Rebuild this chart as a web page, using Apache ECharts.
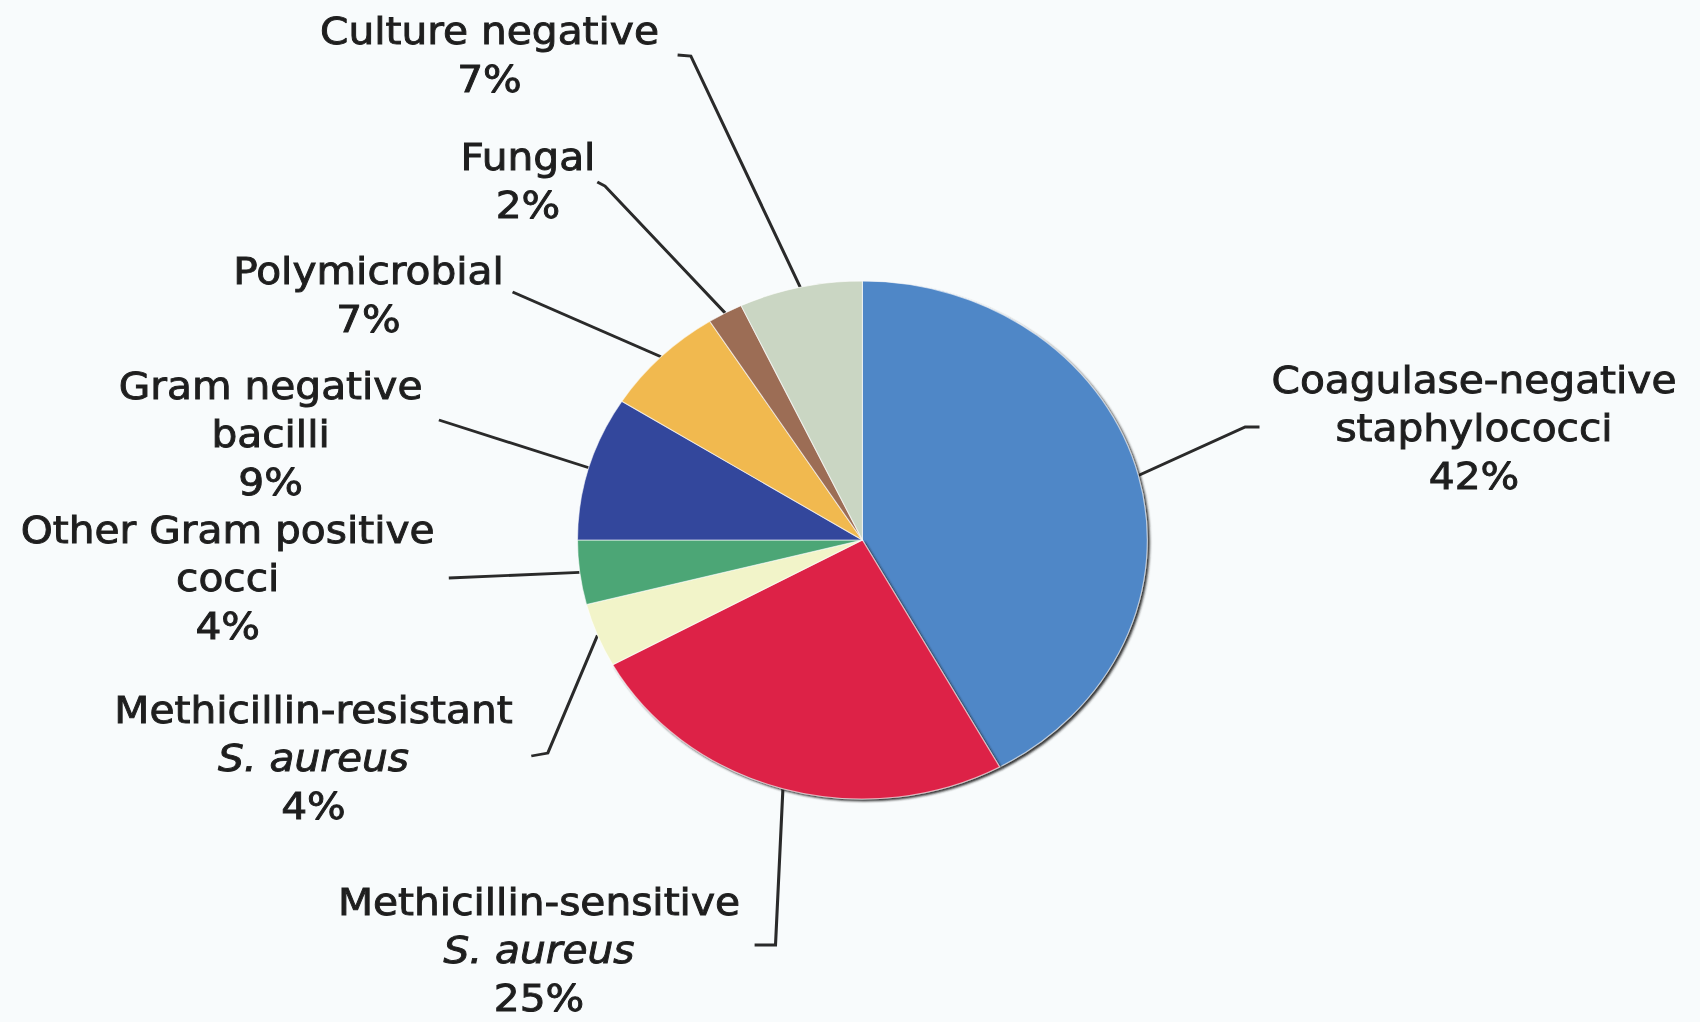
<!DOCTYPE html>
<html>
<head>
<meta charset="utf-8">
<script src="https://cdn.jsdelivr.net/npm/echarts@6/dist/echarts.min.js"></script>
<style>
html,body{margin:0;padding:0;background:#f8fbfc;overflow:hidden;}
/* the source picture is stretched sideways, so the whole chart is too */
#main{width:1546px;height:1022px;transform:scaleX(1.1);transform-origin:0 0;}
</style>
</head>
<body>
<div id="main"></div>
<script>
var names = [
	'Coagulase-negative\nstaphylococci',
	'Methicillin-sensitive\nS. aureus',
	'Methicillin-resistant\nS. aureus',
	'Other Gram positive\ncocci',
	'Gram negative\nbacilli',
	'Polymicrobial',
	'Fungal',
	'Culture negative'
];
var values = [42, 25, 4, 4, 9, 7, 2, 7];
var colors = ['#5087c7', '#dd2247', '#f2f4c9', '#4ca676', '#33479c', '#f1b94f', '#9c6d55', '#cad6c3'];

// where each label sits, and the bend / end of its leader line
var labelAt = [
	{x:1340, y:428, bend:[1132,427], end:[1145,427]},
	{x:490,  y:950, bend:[705,945],  end:[686,945]},
	{x:285,  y:758, bend:[498,753],  end:[483,756]},
	{x:207,  y:578, bend:[408,578],  end:[408,578]},
	{x:246,  y:434, bend:[399,420],  end:[399,420]},
	{x:335,  y:295, bend:[466,292],  end:[466,292]},
	{x:480,  y:181, bend:[550,186],  end:[543,182]},
	{x:445,  y:55,  bend:[628,56],   end:[616,55]}
];

var myChart = echarts.init(document.getElementById('main'), null, {renderer:'svg'});

var data = [];
for(var i=0;i<values.length;i++){
	var item = {name:names[i], value:values[i], itemStyle:{color:colors[i]}};
	// dark rim on the lower right of the pie
	if(i<2){
		item.itemStyle.shadowColor = 'rgba(30,30,30,0.9)';
		item.itemStyle.shadowBlur = 2;
		item.itemStyle.shadowOffsetX = 2;
		item.itemStyle.shadowOffsetY = 2;
	}
	data.push(item);
}

var option = {
	animation: false,
	backgroundColor: '#f8fbfc',
	series: [{
		type: 'pie',
		center: [784, 540],
		radius: 259,
		startAngle: 90,
		clockwise: true,
		avoidLabelOverlap: false,
		emphasis: {disabled: true},
		itemStyle: {borderColor: 'rgba(255,255,255,0.6)', borderWidth: 1},
		label: {
			show: true,
			position: 'outside',
			color: '#1e1e1e',
			fontFamily: 'DejaVu Sans',
			fontSize: 37,
			lineHeight: 48,
			align: 'center',
			// a thin outline makes the text look as heavy as in the scan
			textBorderColor: '#1e1e1e',
			textBorderWidth: 0.9,
			formatter: function(p){
				return p.name.replace('S. aureus', '{i|S. aureus}') + '\n' + p.value + '%';
			},
			rich: {
				i: {fontStyle:'italic', fontFamily:'DejaVu Sans', fontSize:37, lineHeight:48, color:'#1e1e1e',
					textBorderColor:'#1e1e1e', textBorderWidth:0.9}
			}
		},
		labelLine: {
			show: true,
			length: 20,
			length2: 20,
			lineStyle: {color:'#2a2a2a', width:2.8}
		},
		labelLayout: function(params){
			var at = labelAt[params.dataIndex];
			var start = params.labelLinePoints ? params.labelLinePoints[0] : at.bend;
			return {
				x: at.x,
				y: at.y,
				align: 'center',
				verticalAlign: 'middle',
				labelLinePoints: [start, at.bend, at.end]
			};
		},
		data: data
	}]
};

myChart.setOption(option);
</script>
</body>
</html>
